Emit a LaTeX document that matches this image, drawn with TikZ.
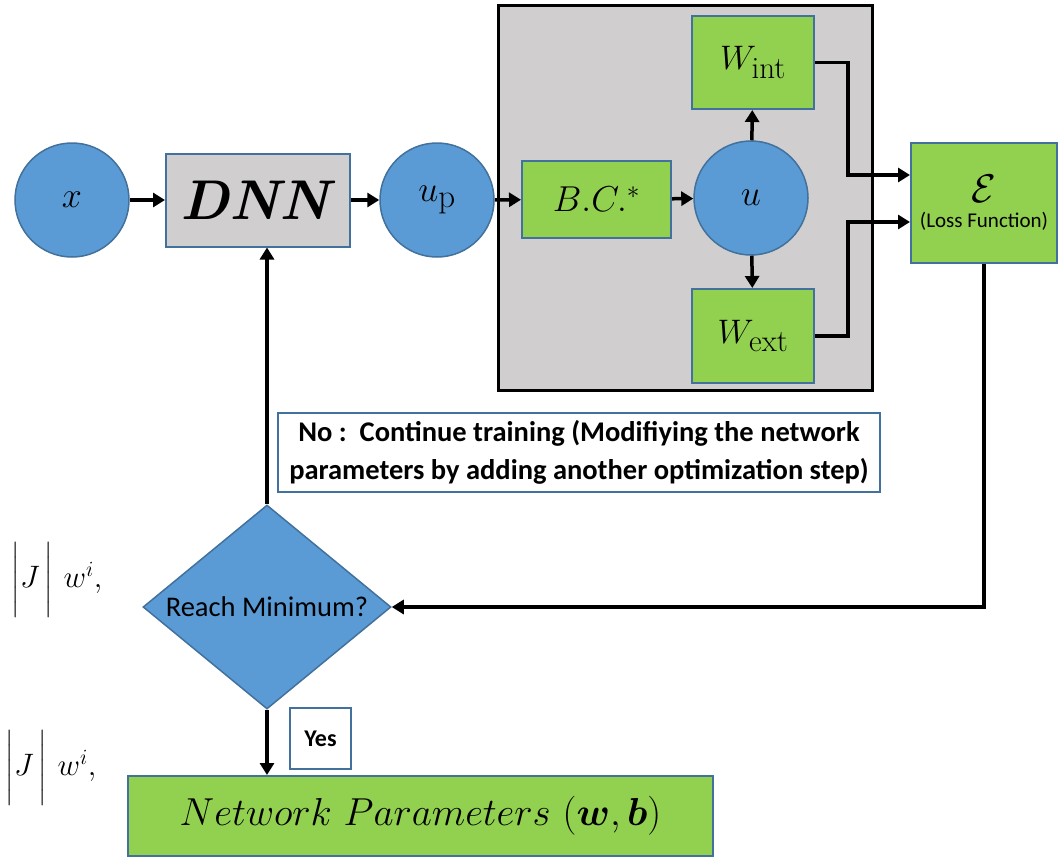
\RequirePackage{fix-cm}
\documentclass[tikz,border=0pt]{standalone}
\usepackage{fontspec}
\usepackage{amsmath,bm}
\newfontfamily\carlito{Carlito}
\usetikzlibrary{shapes.geometric,arrows.meta}
\definecolor{cblue}{HTML}{5B9BD5}
\definecolor{cbord}{HTML}{41719C}
\definecolor{cgreen}{HTML}{92D050}
\definecolor{cgray}{HTML}{D0CECE}
\newcommand{\subtxt}[2]{\text{\fontsize{#1}{#1}\selectfont #2}}
\tikzset{
  circ/.style={circle,fill=cblue,draw=cbord,line width=1.5pt,minimum size=114pt,inner sep=0pt,font=\fontsize{36}{36}\selectfont},
  gbox/.style={rectangle,fill=cgreen,draw=cbord,line width=2pt,inner sep=0pt},
  graybox/.style={rectangle,fill=cgray,draw=cbord,line width=2pt,inner sep=0pt},
  wbox/.style={rectangle,fill=white,draw=cbord,line width=2pt,inner sep=0pt},
  arr/.style={line width=3.5pt,-{Triangle[length=12pt,width=14pt]}},
  frag/.style={inner sep=0pt,font=\fontsize{31}{31}\selectfont},
}
\begin{document}
\begin{tikzpicture}[x=1pt,y=-1pt]
\useasboundingbox (0,0) rectangle (1059,859);
% big gray frame
\node[rectangle,fill=cgray,draw=black,line width=3pt,minimum width=374pt,minimum height=384pt,inner sep=0pt] (frame) at (685,198) {};
% nodes
\node[circ] (x) at (72,200) {$x$};
\node[graybox,minimum width=184pt,minimum height=93pt,font=\fontsize{56}{56}\selectfont] (dnn) at (258,200) {\textbf{\textit{DNN}}};
\node[circ] (up) at (437,200) {$u_{\subtxt{33}{p}}$};
\node[gbox,minimum width=149pt,minimum height=77pt,font=\fontsize{36}{36}\selectfont] (bc) at (596.5,199.5) {$B.C.^{*}$};
\node[circ] (u) at (751,198) {$u$};
\node[gbox,minimum width=122pt,minimum height=93pt,font=\fontsize{34}{34}\selectfont] (wint) at (753,62.5) {$W_{\subtxt{31}{int}}$};
\node[gbox,minimum width=122pt,minimum height=94pt,font=\fontsize{34}{34}\selectfont] (wext) at (753,336) {$W_{\subtxt{31}{ext}}$};
\node[gbox,minimum width=146pt,minimum height=120pt,align=center] (E) at (984,203)
  {{\fontsize{40}{40}\selectfont$\mathcal{E}$}\\[9pt]{\carlito\fontsize{21}{22}\selectfont(Loss Function)}};
\node[wbox,minimum width=602pt,minimum height=79pt,align=center,font={\carlito\bfseries\fontsize{28.5}{38}\selectfont}] (no) at (579,452.5)
  {No :\ \ Continue training (Modifiying the network\\parameters by adding another optimization step)};
\node[diamond,fill=cblue,draw=cbord,line width=1.5pt,minimum width=248pt,minimum height=204pt,aspect=1.216,inner sep=0pt,font={\carlito\fontsize{28.5}{28.5}\selectfont}] (dia) at (267,607)
  {Reach Minimum?};
\node[wbox,minimum width=61pt,minimum height=61pt,font={\carlito\bfseries\fontsize{24}{24}\selectfont}] (yes) at (320.5,738.5) {Yes};
\node[gbox,minimum width=585pt,minimum height=80pt,font=\fontsize{39}{39}\selectfont] (par) at (420.5,816)
  {$Network\ Parameters\ (\bm{w},\bm{b})$};
% margin fragments
\node[frag] (j1) at (57,580) {$\left|\vrule height 30pt depth 28pt width 0pt J\,\right|\,w^{i},$};
\node[frag] (j2) at (51,768) {$\left|\vrule height 30pt depth 28pt width 0pt J\,\right|\,w^{i},$};
% connectors
\draw[arr] (x) -- (dnn);
\draw[arr] (dnn) -- (up);
\draw[arr] (up) -- (bc);
\draw[arr] (bc) -- (u);
\draw[arr] (u) -- (wint);
\draw[arr] (u) -- (wext);
\draw[arr] (wint.east) -- ++(33,0) |- ([yshift=28pt]E.west);
\draw[arr] (wext.east) -- ++(33,0) |- ([yshift=-19pt]E.west);
\draw[arr] (E.south) |- (dia.east);
\draw[arr] (dia.north) -- (dia.north |- dnn.south);
\draw[arr] (dia.south) -- (dia.south |- par.north);
\end{tikzpicture}
\end{document}
